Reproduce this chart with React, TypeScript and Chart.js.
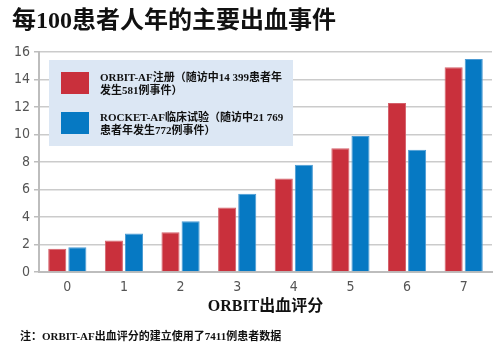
import React, { useEffect, useRef } from "react";
import { Chart, registerables } from "chart.js";

Chart.register(...registerables);

const categories = ["0", "1", "2", "3", "4", "5", "6", "7"];
const orbitValues = [1.7, 2.3, 2.9, 4.7, 6.8, 9.0, 12.3, 14.9];
const rocketValues = [1.8, 2.8, 3.7, 5.7, 7.8, 9.9, 8.9, 15.5];
const seriesNames = ["ORBIT-AF注册", "ROCKET-AF临床试验"];
const legendLines = [
  ["ORBIT-AF注册（随访中14 399患者年", "发生581例事件）"],
  ["ROCKET-AF临床试验（随访中21 769", "患者年发生772例事件）"],
];
const titleText = "每100患者人年的主要出血事件";
const xTitle = "ORBIT出血评分";
const footnote = "注：ORBIT-AF出血评分的建立使用了7411例患者数据";

const RED = "#C9303C";
const BLUE = "#0679C3";
const SERIF = "'Liberation Serif', 'Noto Sans CJK SC', serif";
const COND = "'DejaVu Sans Condensed', 'Roboto', sans-serif";

const decorPlugin = {
  id: "decor",
  afterDraw(chart: any) {
    const ctx = chart.ctx;
    ctx.save();
    // title
    ctx.fillStyle = "#111";
    ctx.font = `bold 24px ${SERIF}`;
    ctx.textBaseline = "middle";
    ctx.textAlign = "left";
    ctx.fillText(titleText, 12, 22);
    // legend box
    ctx.fillStyle = "#DCE7F4";
    ctx.fillRect(49, 60, 244, 86);
    const colors = [RED, BLUE];
    const sqY = [72, 112];
    for (let i = 0; i < 2; i++) {
      ctx.fillStyle = colors[i];
      ctx.fillRect(61, sqY[i], 28, 22);
      ctx.fillStyle = "#111";
      ctx.font = `bold 11px ${SERIF}`;
      ctx.fillText(legendLines[i][0], 100, sqY[i] + 6);
      ctx.fillText(legendLines[i][1], 100, sqY[i] + 19);
    }
    // footnote
    ctx.font = `bold 11px ${SERIF}`;
    ctx.fillStyle = "#111";
    ctx.fillText(footnote, 20, 337);
    ctx.restore();
  },
};

export default function App() {
  const ref = useRef<HTMLCanvasElement | null>(null);
  useEffect(() => {
    if (!ref.current) return;
    const chart = new Chart(ref.current, {
      type: "bar",
      data: {
        labels: categories,
        datasets: [
          {
            label: seriesNames[0],
            data: orbitValues,
            backgroundColor: RED,
            borderColor: "#D4606A",
            borderWidth: 1,
            categoryPercentage: 0.71,
            barPercentage: 0.9,
          },
          {
            label: seriesNames[1],
            data: rocketValues,
            backgroundColor: BLUE,
            borderColor: "#4A9AD3",
            borderWidth: 1,
            categoryPercentage: 0.71,
            barPercentage: 0.9,
          },
        ],
      },
      options: {
        animation: false,
        responsive: false,
        maintainAspectRatio: false,
        layout: { padding: { top: 52, right: 8, bottom: 0, left: 0 } },
        plugins: {
          legend: { display: false },
          tooltip: { enabled: false },
          title: { display: false },
        },
        scales: {
          x: {
            afterFit: (s: any) => {
              s.height = 81;
            },
            grid: { display: false, tickLength: 0, drawTicks: false },
            border: { display: true, color: "#BDBDBD", width: 2 },
            ticks: {
              color: "#555",
              font: { family: COND, size: 14 },
              padding: 7,
            },
            title: {
              display: true,
              text: xTitle,
              color: "#111",
              font: { family: SERIF, size: 16, weight: "bold" },
              padding: { top: 0, bottom: 37 },
            },
          },
          y: {
            min: 0,
            max: 16,
            afterFit: (s: any) => {
              s.width = 39;
            },
            ticks: {
              stepSize: 2,
              color: "#555",
              font: { family: COND, size: 14 },
              padding: 4,
            },
            grid: {
              color: "#CBCBCB",
              lineWidth: 1.5,
              tickLength: 5,
              tickColor: "#BDBDBD",
            },
            border: { display: true, color: "#BDBDBD", width: 2 },
          },
        },
      },
      plugins: [decorPlugin],
    });
    return () => chart.destroy();
  }, []);
  return (
    <div style={{ position: "absolute", left: 0, top: 0, width: 500, height: 353, background: "#fff" }}>
      <canvas ref={ref} width={500} height={353} style={{ width: 500, height: 353, display: "block" }} />
    </div>
  );
}
